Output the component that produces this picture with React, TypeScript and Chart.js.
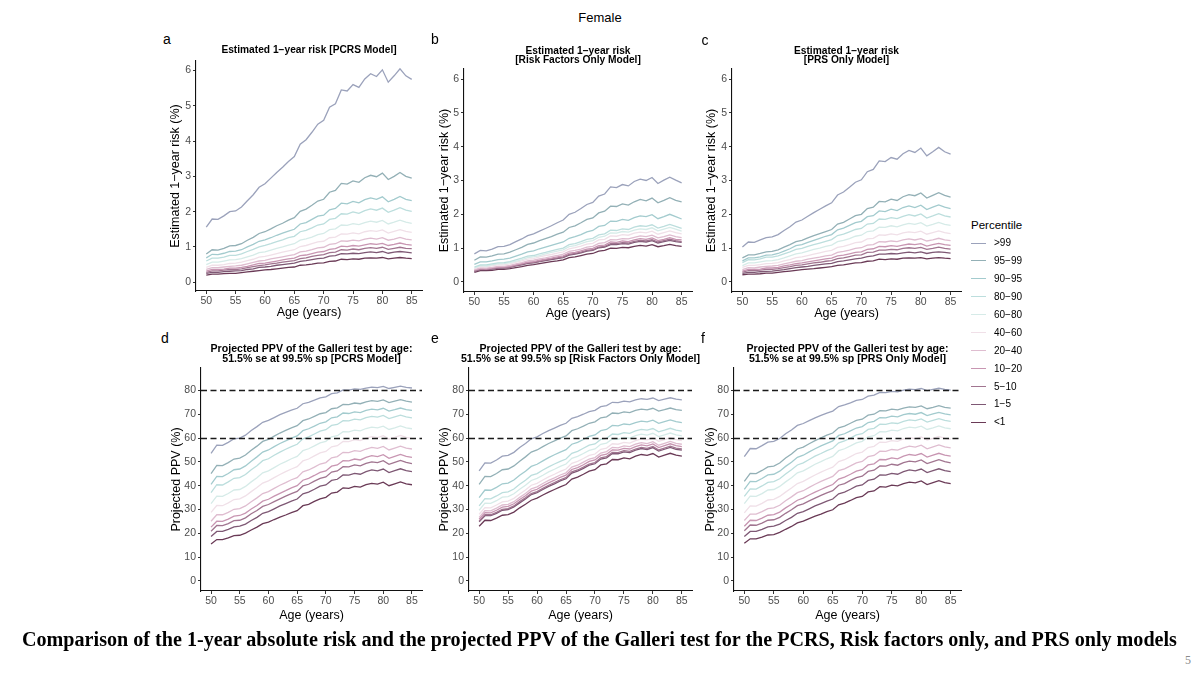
import React, { useEffect, useLayoutEffect, useRef } from "react";
import { Chart, registerables } from "chart.js";

Chart.register(...registerables);

// ---------------------------------------------------------------------------
// Data
// ---------------------------------------------------------------------------
const ages = [
  50, 51, 52, 53, 54, 55, 56, 57, 58, 59, 60, 61, 62, 63, 64, 65, 66, 67,
  68, 69, 70, 71, 72, 73, 74, 75, 76, 77, 78, 79, 80, 81, 82, 83, 84, 85,
];
const ageTicks = [50, 55, 60, 65, 70, 75, 80, 85];
const riskTicks = [0, 1, 2, 3, 4, 5, 6];
const ppvTicks = [0, 10, 20, 30, 40, 50, 60, 70, 80];
const ppvThresholds = [60, 80];

const percentiles = [">99", "95−99", "90−95", "80−90", "60−80", "40−60", "20−40", "10−20", "5−10", "1−5", "<1"];
const percentileColors = [
  "#9ba2bb", "#93b0b6", "#a3cbce", "#bcdedd", "#d6ebe8", "#f0e0e8",
  "#dfbdd0", "#c896b2", "#a17590", "#7e5874", "#6a3a56",
];

// Estimated 1-year risk (%), PCRS model; rows follow `percentiles`
const riskPCRS = [
  [1.56,1.79,1.78,1.88,2.00,2.02,2.13,2.31,2.48,2.69,2.79,2.95,3.11,3.26,3.42,3.56,3.91,4.04,4.25,4.48,4.59,4.96,5.06,5.45,5.42,5.60,5.52,5.76,5.91,5.83,6.02,5.67,5.85,6.05,5.85,5.75],
  [0.80,0.92,0.91,0.96,1.03,1.04,1.09,1.19,1.27,1.38,1.43,1.51,1.60,1.67,1.76,1.83,2.01,2.07,2.18,2.30,2.35,2.55,2.60,2.80,2.78,2.87,2.83,2.96,3.03,2.99,3.09,2.91,3.00,3.11,3.00,2.95],
  [0.69,0.79,0.78,0.82,0.87,0.88,0.92,1.00,1.07,1.16,1.20,1.26,1.33,1.39,1.45,1.50,1.65,1.69,1.78,1.87,1.90,2.05,2.09,2.24,2.22,2.29,2.25,2.34,2.39,2.35,2.42,2.28,2.35,2.43,2.35,2.31],
  [0.60,0.68,0.68,0.71,0.76,0.76,0.80,0.87,0.93,1.00,1.04,1.09,1.15,1.20,1.26,1.30,1.43,1.47,1.54,1.62,1.65,1.78,1.81,1.94,1.93,1.99,1.95,2.03,2.08,2.04,2.10,1.98,2.04,2.11,2.04,2.01],
  [0.50,0.57,0.57,0.60,0.63,0.64,0.67,0.72,0.77,0.84,0.86,0.91,0.96,1.00,1.05,1.09,1.19,1.23,1.28,1.35,1.38,1.49,1.51,1.62,1.61,1.66,1.63,1.69,1.73,1.70,1.75,1.65,1.70,1.76,1.70,1.67],
  [0.42,0.48,0.48,0.50,0.53,0.54,0.57,0.61,0.65,0.71,0.73,0.77,0.81,0.85,0.89,0.92,1.01,1.04,1.09,1.14,1.16,1.26,1.28,1.37,1.36,1.40,1.37,1.43,1.46,1.44,1.48,1.39,1.44,1.49,1.44,1.41],
  [0.36,0.41,0.41,0.43,0.45,0.46,0.48,0.52,0.56,0.60,0.62,0.66,0.69,0.72,0.75,0.78,0.86,0.88,0.92,0.97,0.99,1.07,1.09,1.17,1.16,1.19,1.17,1.22,1.25,1.22,1.26,1.19,1.22,1.27,1.22,1.20],
  [0.31,0.36,0.36,0.37,0.40,0.40,0.42,0.45,0.49,0.53,0.54,0.57,0.60,0.63,0.66,0.68,0.75,0.77,0.81,0.85,0.87,0.93,0.95,1.02,1.01,1.04,1.02,1.06,1.09,1.07,1.10,1.04,1.07,1.11,1.07,1.05],
  [0.28,0.32,0.32,0.34,0.36,0.36,0.38,0.41,0.44,0.47,0.49,0.52,0.54,0.57,0.59,0.61,0.67,0.69,0.73,0.76,0.78,0.84,0.85,0.92,0.91,0.94,0.92,0.96,0.98,0.96,0.99,0.93,0.96,0.99,0.96,0.95],
  [0.25,0.28,0.28,0.30,0.31,0.32,0.33,0.36,0.38,0.42,0.43,0.45,0.48,0.50,0.52,0.54,0.59,0.61,0.64,0.67,0.68,0.74,0.75,0.81,0.80,0.82,0.81,0.84,0.86,0.84,0.87,0.82,0.85,0.87,0.85,0.83],
  [0.20,0.23,0.23,0.24,0.25,0.25,0.27,0.29,0.31,0.33,0.35,0.36,0.38,0.40,0.42,0.43,0.48,0.49,0.51,0.54,0.55,0.59,0.60,0.65,0.64,0.66,0.65,0.68,0.69,0.68,0.70,0.66,0.68,0.70,0.68,0.67],
];

// Estimated 1-year risk (%), risk factors only model
const riskRF = [
  [0.83,0.93,0.92,0.97,1.04,1.05,1.10,1.19,1.27,1.37,1.42,1.50,1.58,1.66,1.75,1.83,2.00,2.06,2.17,2.29,2.35,2.54,2.60,2.81,2.79,2.88,2.84,2.97,3.04,3.00,3.09,2.91,3.01,3.10,3.01,2.93],
  [0.64,0.74,0.73,0.77,0.82,0.83,0.88,0.95,1.02,1.11,1.15,1.22,1.28,1.34,1.41,1.47,1.61,1.66,1.75,1.85,1.89,2.04,2.09,2.24,2.23,2.31,2.27,2.37,2.44,2.40,2.48,2.34,2.41,2.49,2.41,2.37],
  [0.52,0.59,0.59,0.62,0.66,0.67,0.70,0.76,0.82,0.89,0.92,0.98,1.03,1.08,1.13,1.18,1.29,1.34,1.40,1.48,1.52,1.64,1.67,1.80,1.79,1.85,1.82,1.90,1.95,1.93,1.99,1.87,1.93,2.00,1.93,1.86],
  [0.44,0.50,0.50,0.53,0.56,0.57,0.60,0.65,0.70,0.76,0.78,0.83,0.87,0.92,0.96,1.00,1.10,1.13,1.19,1.26,1.29,1.39,1.42,1.53,1.52,1.57,1.55,1.62,1.66,1.64,1.69,1.59,1.64,1.70,1.64,1.58],
  [0.41,0.48,0.47,0.50,0.53,0.54,0.57,0.61,0.66,0.72,0.74,0.78,0.83,0.87,0.91,0.95,1.04,1.07,1.13,1.19,1.22,1.32,1.35,1.45,1.44,1.49,1.47,1.53,1.57,1.55,1.60,1.51,1.56,1.61,1.56,1.50],
  [0.39,0.45,0.44,0.47,0.50,0.50,0.53,0.58,0.62,0.67,0.69,0.74,0.78,0.81,0.85,0.89,0.98,1.01,1.06,1.12,1.14,1.24,1.26,1.36,1.35,1.40,1.38,1.44,1.47,1.45,1.50,1.41,1.46,1.51,1.46,1.42],
  [0.36,0.41,0.41,0.43,0.46,0.46,0.49,0.53,0.57,0.62,0.64,0.68,0.71,0.75,0.78,0.82,0.90,0.93,0.97,1.03,1.05,1.14,1.16,1.25,1.24,1.28,1.27,1.32,1.36,1.34,1.38,1.30,1.34,1.39,1.34,1.31],
  [0.34,0.39,0.38,0.41,0.43,0.44,0.46,0.50,0.54,0.58,0.60,0.64,0.67,0.70,0.74,0.77,0.85,0.87,0.92,0.97,0.99,1.07,1.09,1.18,1.17,1.21,1.19,1.24,1.28,1.26,1.30,1.22,1.26,1.31,1.26,1.24],
  [0.32,0.37,0.37,0.39,0.42,0.42,0.44,0.48,0.52,0.56,0.58,0.61,0.65,0.68,0.71,0.74,0.81,0.84,0.88,0.93,0.95,1.03,1.05,1.13,1.13,1.16,1.15,1.20,1.23,1.21,1.25,1.18,1.22,1.26,1.22,1.19],
  [0.31,0.36,0.36,0.38,0.41,0.41,0.43,0.47,0.50,0.55,0.56,0.60,0.63,0.66,0.69,0.72,0.79,0.82,0.86,0.91,0.93,1.01,1.03,1.10,1.10,1.13,1.12,1.17,1.20,1.18,1.22,1.15,1.19,1.23,1.19,1.17],
  [0.28,0.33,0.33,0.34,0.37,0.37,0.39,0.42,0.45,0.49,0.51,0.54,0.57,0.60,0.62,0.65,0.72,0.74,0.78,0.82,0.84,0.91,0.93,1.00,0.99,1.02,1.01,1.05,1.08,1.06,1.10,1.04,1.07,1.11,1.07,1.05],
];

// Estimated 1-year risk (%), PRS only model
const riskPRS = [
  [1.03,1.18,1.17,1.24,1.31,1.33,1.40,1.52,1.63,1.77,1.83,1.94,2.05,2.15,2.25,2.34,2.57,2.66,2.80,2.95,3.02,3.26,3.33,3.58,3.56,3.68,3.63,3.79,3.89,3.83,3.96,3.73,3.85,3.98,3.85,3.78],
  [0.71,0.80,0.80,0.84,0.89,0.90,0.95,1.03,1.10,1.19,1.23,1.30,1.37,1.43,1.49,1.55,1.71,1.76,1.86,1.96,2.00,2.17,2.21,2.38,2.37,2.45,2.41,2.52,2.58,2.55,2.63,2.48,2.56,2.64,2.56,2.51],
  [0.62,0.71,0.71,0.74,0.79,0.80,0.84,0.91,0.98,1.07,1.10,1.17,1.23,1.29,1.35,1.40,1.54,1.59,1.67,1.75,1.79,1.93,1.96,2.10,2.08,2.15,2.11,2.20,2.25,2.20,2.27,2.14,2.21,2.28,2.21,2.17],
  [0.57,0.66,0.65,0.68,0.73,0.73,0.77,0.83,0.89,0.96,0.99,1.05,1.10,1.15,1.20,1.25,1.37,1.41,1.48,1.55,1.58,1.71,1.73,1.86,1.85,1.90,1.87,1.94,1.99,1.95,2.01,1.89,1.95,2.02,1.95,1.92],
  [0.48,0.56,0.56,0.59,0.62,0.63,0.66,0.71,0.77,0.83,0.86,0.91,0.96,1.00,1.05,1.09,1.19,1.23,1.28,1.35,1.38,1.49,1.51,1.62,1.61,1.66,1.63,1.69,1.73,1.70,1.75,1.65,1.70,1.76,1.70,1.67],
  [0.43,0.49,0.49,0.51,0.54,0.55,0.57,0.62,0.66,0.72,0.74,0.78,0.82,0.86,0.90,0.93,1.02,1.05,1.10,1.16,1.18,1.27,1.29,1.39,1.38,1.42,1.39,1.45,1.48,1.46,1.50,1.41,1.46,1.51,1.46,1.43],
  [0.36,0.42,0.41,0.44,0.46,0.47,0.49,0.53,0.57,0.61,0.63,0.67,0.70,0.73,0.77,0.79,0.87,0.90,0.94,0.99,1.01,1.09,1.10,1.19,1.18,1.21,1.19,1.24,1.27,1.24,1.28,1.21,1.24,1.29,1.24,1.22],
  [0.32,0.37,0.37,0.38,0.41,0.41,0.43,0.47,0.50,0.54,0.56,0.59,0.62,0.65,0.68,0.70,0.77,0.79,0.83,0.87,0.89,0.96,0.98,1.05,1.04,1.07,1.05,1.09,1.12,1.10,1.13,1.06,1.10,1.14,1.10,1.08],
  [0.29,0.33,0.33,0.35,0.37,0.37,0.39,0.42,0.45,0.49,0.50,0.53,0.56,0.58,0.61,0.63,0.69,0.71,0.75,0.79,0.80,0.87,0.88,0.94,0.94,0.96,0.95,0.99,1.01,0.99,1.02,0.96,0.99,1.03,0.99,0.97],
  [0.25,0.28,0.28,0.30,0.31,0.32,0.34,0.36,0.39,0.42,0.44,0.46,0.49,0.51,0.53,0.55,0.60,0.62,0.65,0.68,0.70,0.75,0.77,0.82,0.82,0.84,0.83,0.86,0.88,0.86,0.89,0.84,0.87,0.89,0.87,0.85],
  [0.21,0.23,0.23,0.24,0.26,0.26,0.28,0.30,0.32,0.34,0.36,0.38,0.39,0.41,0.43,0.45,0.49,0.50,0.53,0.56,0.57,0.61,0.62,0.67,0.66,0.68,0.67,0.70,0.71,0.70,0.72,0.68,0.70,0.72,0.70,0.69],
];

// Projected PPV (%) of the Galleri test, PCRS model
const ppvPCRS = [
  [53.6,57.0,56.9,58.2,59.7,60.0,61.2,63.2,64.8,66.6,67.4,68.6,69.8,70.8,71.7,72.5,74.4,75.0,75.9,76.9,77.3,78.6,79.0,80.2,80.1,80.6,80.4,81.0,81.4,81.2,81.7,80.8,81.3,81.8,81.3,81.0],
  [45.1,48.5,48.4,49.7,51.2,51.6,52.9,54.9,56.6,58.6,59.4,60.8,62.1,63.2,64.3,65.2,67.3,68.0,69.1,70.2,70.7,72.3,72.7,74.1,74.0,74.7,74.4,75.2,75.7,75.4,76.0,74.9,75.5,76.1,75.5,75.1],
  [40.6,43.9,43.8,45.1,46.7,47.0,48.3,50.3,52.1,54.1,55.0,56.4,57.7,58.8,60.0,60.9,63.1,63.9,65.0,66.2,66.8,68.5,68.9,70.5,70.3,71.0,70.7,71.6,72.1,71.8,72.5,71.3,71.9,72.6,71.9,71.6],
  [37.1,40.4,40.3,41.6,43.1,43.4,44.7,46.7,48.4,50.5,51.3,52.8,54.1,55.3,56.4,57.4,59.7,60.5,61.7,62.9,63.5,65.3,65.7,67.3,67.2,67.9,67.6,68.6,69.1,68.8,69.5,68.2,68.9,69.6,68.9,68.5],
  [32.5,35.6,35.5,36.7,38.2,38.4,39.7,41.6,43.3,45.4,46.2,47.6,49.0,50.1,51.3,52.3,54.7,55.5,56.7,58.0,58.6,60.5,61.0,62.7,62.6,63.3,63.0,64.0,64.6,64.3,65.0,63.6,64.3,65.1,64.3,63.9],
  [28.8,31.7,31.6,32.8,34.2,34.5,35.7,37.5,39.2,41.1,42.0,43.4,44.7,45.9,47.0,48.0,50.4,51.2,52.5,53.8,54.4,56.3,56.8,58.6,58.5,59.3,58.9,60.0,60.6,60.2,61.0,59.6,60.3,61.1,60.3,59.9],
  [25.1,27.8,27.8,28.8,30.1,30.4,31.5,33.3,34.9,36.7,37.5,38.9,40.2,41.3,42.5,43.4,45.8,46.6,47.8,49.1,49.7,51.7,52.2,54.0,53.9,54.7,54.4,55.4,56.1,55.7,56.5,55.0,55.8,56.6,55.8,55.4],
  [22.6,25.1,25.0,26.0,27.2,27.5,28.5,30.2,31.7,33.5,34.3,35.6,36.8,37.9,39.1,40.0,42.3,43.1,44.3,45.6,46.2,48.2,48.7,50.5,50.4,51.2,50.8,51.9,52.6,52.2,53.0,51.5,52.3,53.1,52.3,51.9],
  [20.9,23.3,23.2,24.1,25.3,25.5,26.5,28.2,29.6,31.3,32.1,33.3,34.5,35.6,36.7,37.6,39.9,40.6,41.9,43.1,43.7,45.7,46.2,48.0,47.9,48.7,48.3,49.4,50.0,49.7,50.5,49.0,49.8,50.6,49.8,49.3],
  [18.7,20.8,20.8,21.7,22.7,23.0,23.9,25.4,26.7,28.4,29.1,30.3,31.5,32.5,33.5,34.4,36.6,37.3,38.5,39.8,40.3,42.2,42.7,44.5,44.4,45.2,44.8,45.9,46.6,46.2,47.0,45.5,46.3,47.1,46.3,45.9],
  [15.5,17.4,17.4,18.1,19.0,19.2,20.1,21.4,22.6,24.1,24.7,25.8,26.8,27.7,28.7,29.5,31.6,32.2,33.4,34.5,35.1,36.9,37.3,39.1,38.9,39.7,39.4,40.4,41.0,40.7,41.5,40.0,40.8,41.6,40.8,40.4],
];

// Projected PPV (%), risk factors only model
const ppvRF = [
  [46.2,49.6,49.5,50.8,52.4,52.7,54.0,56.0,57.7,59.7,60.5,61.9,63.1,64.2,65.3,66.2,68.3,69.0,70.0,71.1,71.6,73.2,73.6,75.0,74.9,75.5,75.2,76.0,76.5,76.2,76.8,75.7,76.3,76.9,76.3,76.0],
  [40.6,43.9,43.8,45.1,46.7,47.0,48.3,50.3,52.1,54.1,55.0,56.4,57.7,58.8,60.0,60.9,63.1,63.9,65.0,66.2,66.8,68.5,68.9,70.5,70.3,71.0,70.7,71.6,72.1,71.8,72.5,71.3,71.9,72.6,71.9,71.6],
  [35.0,38.2,38.1,39.3,40.8,41.1,42.4,44.4,46.1,48.1,49.0,50.4,51.8,53.0,54.1,55.1,57.4,58.2,59.4,60.7,61.3,63.1,63.6,65.3,65.1,65.9,65.6,66.5,67.1,66.8,67.5,66.2,66.9,67.6,66.9,66.5],
  [31.5,34.6,34.5,35.7,37.1,37.4,38.6,40.6,42.3,44.3,45.1,46.6,47.9,49.1,50.2,51.2,53.6,54.4,55.7,57.0,57.5,59.4,59.9,61.7,61.5,62.3,62.0,63.0,63.6,63.3,64.0,62.6,63.3,64.1,63.3,62.9],
  [29.7,32.7,32.6,33.7,35.2,35.4,36.6,38.5,40.2,42.2,43.1,44.4,45.8,46.9,48.1,49.1,51.5,52.3,53.5,54.8,55.4,57.4,57.9,59.6,59.5,60.3,60.0,61.0,61.6,61.2,62.0,60.6,61.3,62.1,61.3,60.9],
  [28.0,30.8,30.7,31.9,33.2,33.5,34.7,36.5,38.2,40.2,41.0,42.4,43.7,44.8,46.0,47.0,49.4,50.2,51.4,52.7,53.3,55.3,55.8,57.6,57.4,58.2,57.9,58.9,59.6,59.2,60.0,58.6,59.3,60.1,59.3,58.9],
  [26.7,29.5,29.4,30.6,31.9,32.2,33.3,35.1,36.7,38.7,39.5,40.9,42.2,43.3,44.5,45.4,47.8,48.6,49.9,51.2,51.8,53.7,54.3,56.1,55.9,56.7,56.4,57.4,58.1,57.7,58.5,57.0,57.8,58.6,57.8,57.4],
  [25.9,28.7,28.6,29.7,31.0,31.3,32.4,34.2,35.8,37.7,38.5,39.9,41.2,42.3,43.5,44.4,46.8,47.6,48.8,50.2,50.8,52.7,53.2,55.0,54.9,55.7,55.4,56.4,57.1,56.7,57.5,56.0,56.8,57.6,56.8,56.4],
  [25.1,27.8,27.8,28.8,30.1,30.4,31.5,33.3,34.9,36.7,37.5,38.9,40.2,41.3,42.5,43.4,45.8,46.6,47.8,49.1,49.7,51.7,52.2,54.0,53.9,54.7,54.4,55.4,56.1,55.7,56.5,55.0,55.8,56.6,55.8,55.4],
  [24.8,27.4,27.4,28.4,29.7,30.0,31.1,32.8,34.4,36.3,37.1,38.4,39.7,40.8,42.0,42.9,45.3,46.1,47.3,48.6,49.2,51.2,51.7,53.5,53.4,54.2,53.9,54.9,55.6,55.2,56.0,54.5,55.3,56.1,55.3,54.9],
  [23.0,25.5,25.4,26.4,27.6,27.9,28.9,30.7,32.2,33.9,34.8,36.1,37.3,38.4,39.5,40.5,42.8,43.6,44.8,46.1,46.7,48.7,49.2,51.0,50.9,51.7,51.3,52.4,53.1,52.7,53.5,52.0,52.8,53.6,52.8,52.4],
];

// Projected PPV (%), PRS only model
const ppvPRS = [
  [52.2,55.6,55.5,56.8,58.3,58.6,59.8,61.8,63.4,65.3,66.1,67.3,68.5,69.5,70.5,71.3,73.2,73.9,74.8,75.8,76.2,77.6,78.0,79.2,79.1,79.6,79.4,80.1,80.5,80.3,80.8,79.9,80.4,80.9,80.4,80.1],
  [41.8,45.2,45.1,46.4,47.9,48.2,49.5,51.6,53.3,55.4,56.2,57.6,58.9,60.1,61.2,62.1,64.3,65.0,66.2,67.4,67.9,69.6,70.0,71.5,71.4,72.1,71.8,72.6,73.1,72.9,73.5,72.3,72.9,73.6,72.9,72.6],
  [38.5,41.8,41.7,43.0,44.5,44.8,46.1,48.1,49.8,51.9,52.8,54.2,55.5,56.7,57.8,58.8,61.1,61.8,63.0,64.2,64.8,66.5,67.0,68.6,68.5,69.2,68.9,69.8,70.3,70.0,70.7,69.4,70.1,70.8,70.1,69.7],
  [35.5,38.7,38.6,39.9,41.4,41.7,42.9,44.9,46.7,48.7,49.6,51.0,52.4,53.5,54.7,55.7,58.0,58.8,60.0,61.3,61.8,63.6,64.1,65.8,65.7,66.4,66.1,67.0,67.6,67.3,68.0,66.7,67.4,68.1,67.4,67.0],
  [32.5,35.6,35.5,36.7,38.2,38.4,39.7,41.6,43.3,45.4,46.2,47.6,49.0,50.1,51.3,52.3,54.7,55.5,56.7,58.0,58.6,60.5,61.0,62.7,62.6,63.3,63.0,64.0,64.6,64.3,65.0,63.6,64.3,65.1,64.3,63.9],
  [28.6,31.5,31.4,32.6,34.0,34.3,35.5,37.3,39.0,40.9,41.8,43.2,44.5,45.7,46.8,47.8,50.1,50.9,52.2,53.5,54.1,56.0,56.5,58.3,58.2,58.9,58.6,59.6,60.2,59.8,60.5,59.2,59.9,60.7,59.9,59.5],
  [25.4,28.1,28.1,29.1,30.4,30.7,31.8,33.7,35.3,37.1,37.9,39.3,40.6,41.8,42.9,43.9,46.3,47.1,48.3,49.6,50.2,52.2,52.7,54.5,54.4,55.2,54.9,55.9,56.6,56.2,57.0,55.5,56.3,57.1,56.3,55.9],
  [23.0,25.5,25.4,26.4,27.6,27.9,28.9,30.7,32.2,33.9,34.8,36.1,37.3,38.4,39.5,40.5,42.8,43.6,44.8,46.1,46.7,48.7,49.2,51.0,50.9,51.7,51.3,52.4,53.1,52.7,53.5,52.0,52.8,53.6,52.8,52.4],
  [21.1,23.5,23.4,24.3,25.5,25.7,26.7,28.4,29.9,31.6,32.4,33.6,34.8,35.9,37.0,37.9,40.2,40.9,42.2,43.4,44.0,46.0,46.5,48.3,48.2,49.0,48.6,49.7,50.3,50.0,50.8,49.3,50.1,50.9,50.1,49.6],
  [18.7,20.8,20.8,21.7,22.7,23.0,23.9,25.4,26.7,28.4,29.1,30.3,31.5,32.5,33.5,34.4,36.6,37.3,38.5,39.8,40.3,42.2,42.7,44.5,44.4,45.2,44.8,45.9,46.6,46.2,47.0,45.5,46.3,47.1,46.3,45.9],
  [15.8,17.7,17.7,18.4,19.3,19.5,20.4,21.7,22.9,24.4,25.1,26.2,27.2,28.1,29.1,29.9,32.0,32.7,33.8,35.0,35.5,37.4,37.8,39.6,39.4,40.2,39.9,40.9,41.5,41.2,42.0,40.5,41.3,42.1,41.3,40.9],
];

// ---------------------------------------------------------------------------
// Layout & styling
// ---------------------------------------------------------------------------
const SANS = '"Liberation Sans", Arial, Helvetica, sans-serif';
const SERIF = '"Liberation Serif", "Times New Roman", serif';

const Y_W = 50; // width reserved left of the plot for ticks + axis title
const X_H = 38; // height reserved below the plot
const PAD_T = 12;
const PAD_R = 8;
const AXIS_TITLE_SIZE = 12.5;
const TICK_SIZE = 10.5;

type Box = { left: number; top: number; right: number; bottom: number };
type PanelSpec = {
  letter: string;
  letterX: number;
  letterY: number;
  title: string[];
  titleY: number;
  titleSize: number;
  series: number[][];
  yTitle: string;
  yMin: number;
  yMax: number;
  yTicks: number[];
  refLines: number[];
  yTitleGap: number;
  xTitleGap: number;
  box: Box;
};

const panels: PanelSpec[] = [
  {
    letter: "a", letterX: 167, letterY: 39,
    title: ["Estimated 1−year risk [PCRS Model]"], titleY: 50, titleSize: 10.2,
    series: riskPCRS, yTitle: "Estimated 1−year risk (%)",
    yMin: -0.25, yMax: 6.27, yTicks: riskTicks, refLines: [], yTitleGap: 20, xTitleGap: 22,
    box: { left: 196, top: 61, right: 422, bottom: 291 },
  },
  {
    letter: "b", letterX: 435, letterY: 39,
    title: ["Estimated 1−year risk", "[Risk Factors Only Model]"], titleY: 50.5, titleSize: 10.2,
    series: riskRF, yTitle: "Estimated 1−year risk (%)",
    yMin: -0.3, yMax: 6.3, yTicks: riskTicks, refLines: [], yTitleGap: 19, xTitleGap: 22,
    box: { left: 464, top: 69, right: 692, bottom: 292 },
  },
  {
    letter: "c", letterX: 705, letterY: 40,
    title: ["Estimated 1−year risk", "[PRS Only Model]"], titleY: 50.5, titleSize: 10.2,
    series: riskPRS, yTitle: "Estimated 1−year risk (%)",
    yMin: -0.3, yMax: 6.3, yTicks: riskTicks, refLines: [], yTitleGap: 20, xTitleGap: 22,
    box: { left: 732, top: 69, right: 961, bottom: 292 },
  },
  {
    letter: "d", letterX: 165, letterY: 338,
    title: ["Projected PPV of the Galleri test by age:", "51.5% se at 99.5% sp [PCRS Model]"], titleY: 349, titleSize: 10.6,
    series: ppvPCRS, yTitle: "Projected PPV (%)",
    yMin: -4.2, yMax: 89.4, yTicks: ppvTicks, refLines: ppvThresholds, yTitleGap: 24, xTitleGap: 25,
    box: { left: 201, top: 368, right: 422, bottom: 591 },
  },
  {
    letter: "e", letterX: 435, letterY: 338,
    title: ["Projected PPV of the Galleri test by age:", "51.5% se at 99.5% sp [Risk Factors Only Model]"], titleY: 349, titleSize: 10.6,
    series: ppvRF, yTitle: "Projected PPV (%)",
    yMin: -4.2, yMax: 89.4, yTicks: ppvTicks, refLines: ppvThresholds, yTitleGap: 24, xTitleGap: 25,
    box: { left: 469, top: 368, right: 692, bottom: 591 },
  },
  {
    letter: "f", letterX: 703, letterY: 338,
    title: ["Projected PPV of the Galleri test by age:", "51.5% se at 99.5% sp [PRS Only Model]"], titleY: 349, titleSize: 10.6,
    series: ppvPRS, yTitle: "Projected PPV (%)",
    yMin: -4.2, yMax: 89.4, yTicks: ppvTicks, refLines: ppvThresholds, yTitleGap: 23, xTitleGap: 25,
    box: { left: 734, top: 368, right: 961, bottom: 591 },
  },
];

// ---------------------------------------------------------------------------
// Components
// ---------------------------------------------------------------------------
// Absolutely positioned text; `y` is the centre of the first line.
function Text(props: {
  x: number; y: number; text: string; size: number; bold?: boolean;
  align?: "left" | "center"; color?: string; lineHeight?: number; family?: string;
}) {
  const { x, y, text, size, bold, align = "center", color = "#000", family = SANS } = props;
  const lh = props.lineHeight ?? Math.round(size * 1.2);
  const width = 500;
  return (
    <div
      style={{
        position: "absolute",
        left: align === "center" ? x - width / 2 : x,
        top: y - lh / 2,
        width,
        textAlign: align,
        fontFamily: family,
        fontSize: size,
        fontWeight: bold ? 700 : 400,
        lineHeight: `${lh}px`,
        color,
        whiteSpace: "pre",
      }}
    >
      {text}
    </div>
  );
}

function Panel({ spec }: { spec: PanelSpec }) {
  const ref = useRef<HTMLCanvasElement>(null);
  const { box } = spec;
  const cw = box.right - box.left + Y_W + PAD_R;
  const ch = box.bottom - box.top + PAD_T + X_H;

  useEffect(() => {
    const thresholds = spec.refLines;
    const refLinePlugin = {
      id: "refLines",
      afterDatasetsDraw(chart: any) {
        const { ctx, chartArea } = chart;
        const yScale = chart.scales.y;
        ctx.save();
        ctx.strokeStyle = "#1a1a1a";
        ctx.lineWidth = 1.5;
        ctx.setLineDash([6, 3.5]);
        thresholds.forEach((v) => {
          const py = Math.round(yScale.getPixelForValue(v)) + 0.5;
          ctx.beginPath();
          ctx.moveTo(chartArea.left, py);
          ctx.lineTo(chartArea.right, py);
          ctx.stroke();
        });
        ctx.restore();
      },
    };

    const lh = AXIS_TITLE_SIZE * 1.2;
    const chart = new Chart(ref.current as HTMLCanvasElement, {
      type: "line",
      data: {
        datasets: spec.series.map((vals, i) => ({
          label: percentiles[i],
          data: ages.map((a, j) => ({ x: a, y: vals[j] })),
          borderColor: percentileColors[i],
          backgroundColor: percentileColors[i],
          borderWidth: 1.3,
          pointRadius: 0,
          tension: 0,
          fill: false,
        })),
      },
      options: {
        responsive: false,
        animation: false,
        devicePixelRatio: 1,
        layout: { padding: { top: PAD_T, right: PAD_R, left: 0, bottom: 0 } },
        plugins: {
          legend: { display: false },
          tooltip: { enabled: false },
          title: { display: false },
        },
        scales: {
          x: {
            type: "linear",
            min: 48.25,
            max: 86.75,
            afterBuildTicks: (s: any) => {
              s.ticks = ageTicks.map((v) => ({ value: v }));
            },
            afterFit: (s: any) => {
              s.height = X_H;
            },
            grid: { display: true, drawOnChartArea: false, drawTicks: true, tickLength: 3, color: "#333", lineWidth: 1 },
            border: { display: true, color: "#111", width: 1.1 },
            ticks: {
              color: "#4d4d4d",
              font: { family: SANS, size: TICK_SIZE },
              padding: 1,
              maxRotation: 0,
              autoSkip: false,
            },
            title: {
              display: true,
              text: "Age (years)",
              color: "#000",
              font: { family: SANS, size: AXIS_TITLE_SIZE, lineHeight: 1.2 },
              padding: { top: 0, bottom: X_H - spec.xTitleGap - lh / 2 },
            },
          },
          y: {
            type: "linear",
            min: spec.yMin,
            max: spec.yMax,
            afterBuildTicks: (s: any) => {
              s.ticks = spec.yTicks.map((v) => ({ value: v }));
            },
            afterFit: (s: any) => {
              s.width = Y_W;
            },
            grid: { display: true, drawOnChartArea: false, drawTicks: true, tickLength: 3, color: "#333", lineWidth: 1 },
            border: { display: true, color: "#111", width: 1.1 },
            ticks: {
              color: "#4d4d4d",
              font: { family: SANS, size: TICK_SIZE },
              padding: 2,
              autoSkip: false,
            },
            title: {
              display: true,
              text: spec.yTitle,
              color: "#000",
              font: { family: SANS, size: AXIS_TITLE_SIZE, lineHeight: 1.2 },
              padding: { top: Y_W - spec.yTitleGap - lh / 2, bottom: 0 },
            },
          },
        },
      },
      plugins: [refLinePlugin],
    } as any);
    return () => chart.destroy();
  }, [spec]);

  const titleLh = spec.title.length > 1 ? 9.5 : 12;
  return (
    <>
      <canvas
        ref={ref}
        width={cw}
        height={ch}
        style={{
          position: "absolute",
          left: box.left - Y_W,
          top: box.top - PAD_T,
          width: cw,
          height: ch,
        }}
      />
      <Text x={spec.letterX} y={spec.letterY} text={spec.letter} size={14} />
      <Text
        x={(box.left + box.right) / 2}
        y={spec.titleY}
        text={spec.title.join("\n")}
        size={spec.titleSize}
        bold
        lineHeight={titleLh}
      />
    </>
  );
}

function Legend() {
  const x0 = 971;
  const y0 = 243.3;
  const step = 17.9;
  return (
    <>
      <Text x={x0} y={225} text="Percentile" size={11.5} align="left" />
      {percentiles.map((p, i) => (
        <React.Fragment key={p}>
          <div
            style={{
              position: "absolute",
              left: x0,
              top: y0 + i * step - 0.75,
              width: 15,
              height: 0,
              borderTop: `1.5px solid ${percentileColors[i]}`,
            }}
          />
          <Text x={994} y={y0 + i * step} text={p} size={10} align="left" />
        </React.Fragment>
      ))}
    </>
  );
}

function Caption() {
  const ref = useRef<HTMLSpanElement>(null);
  const target = 1155;
  useLayoutEffect(() => {
    const el = ref.current;
    if (!el) return;
    const w = el.offsetWidth;
    if (w > 0) el.style.transform = `scaleX(${target / w})`;
  }, []);
  return (
    <span
      ref={ref}
      style={{
        position: "absolute",
        left: 22,
        top: 627,
        fontFamily: SERIF,
        fontWeight: 700,
        fontSize: 20,
        lineHeight: "24px",
        whiteSpace: "nowrap",
        transformOrigin: "0 0",
        color: "#000",
      }}
    >
      Comparison of the 1-year absolute risk and the projected PPV of the Galleri test for the PCRS, Risk factors only, and PRS only models
    </span>
  );
}

export default function App() {
  return (
    <div
      style={{
        position: "absolute",
        left: 0,
        top: 0,
        width: 1200,
        height: 675,
        background: "#fff",
        overflow: "hidden",
      }}
    >
      <Text x={600} y={18} text="Female" size={13} />
      {panels.map((p) => (
        <Panel key={p.letter} spec={p} />
      ))}
      <Legend />
      <Caption />
      <Text x={1188} y={660} text="5" size={12} color="#8a8a8a" family={SERIF} />
    </div>
  );
}
